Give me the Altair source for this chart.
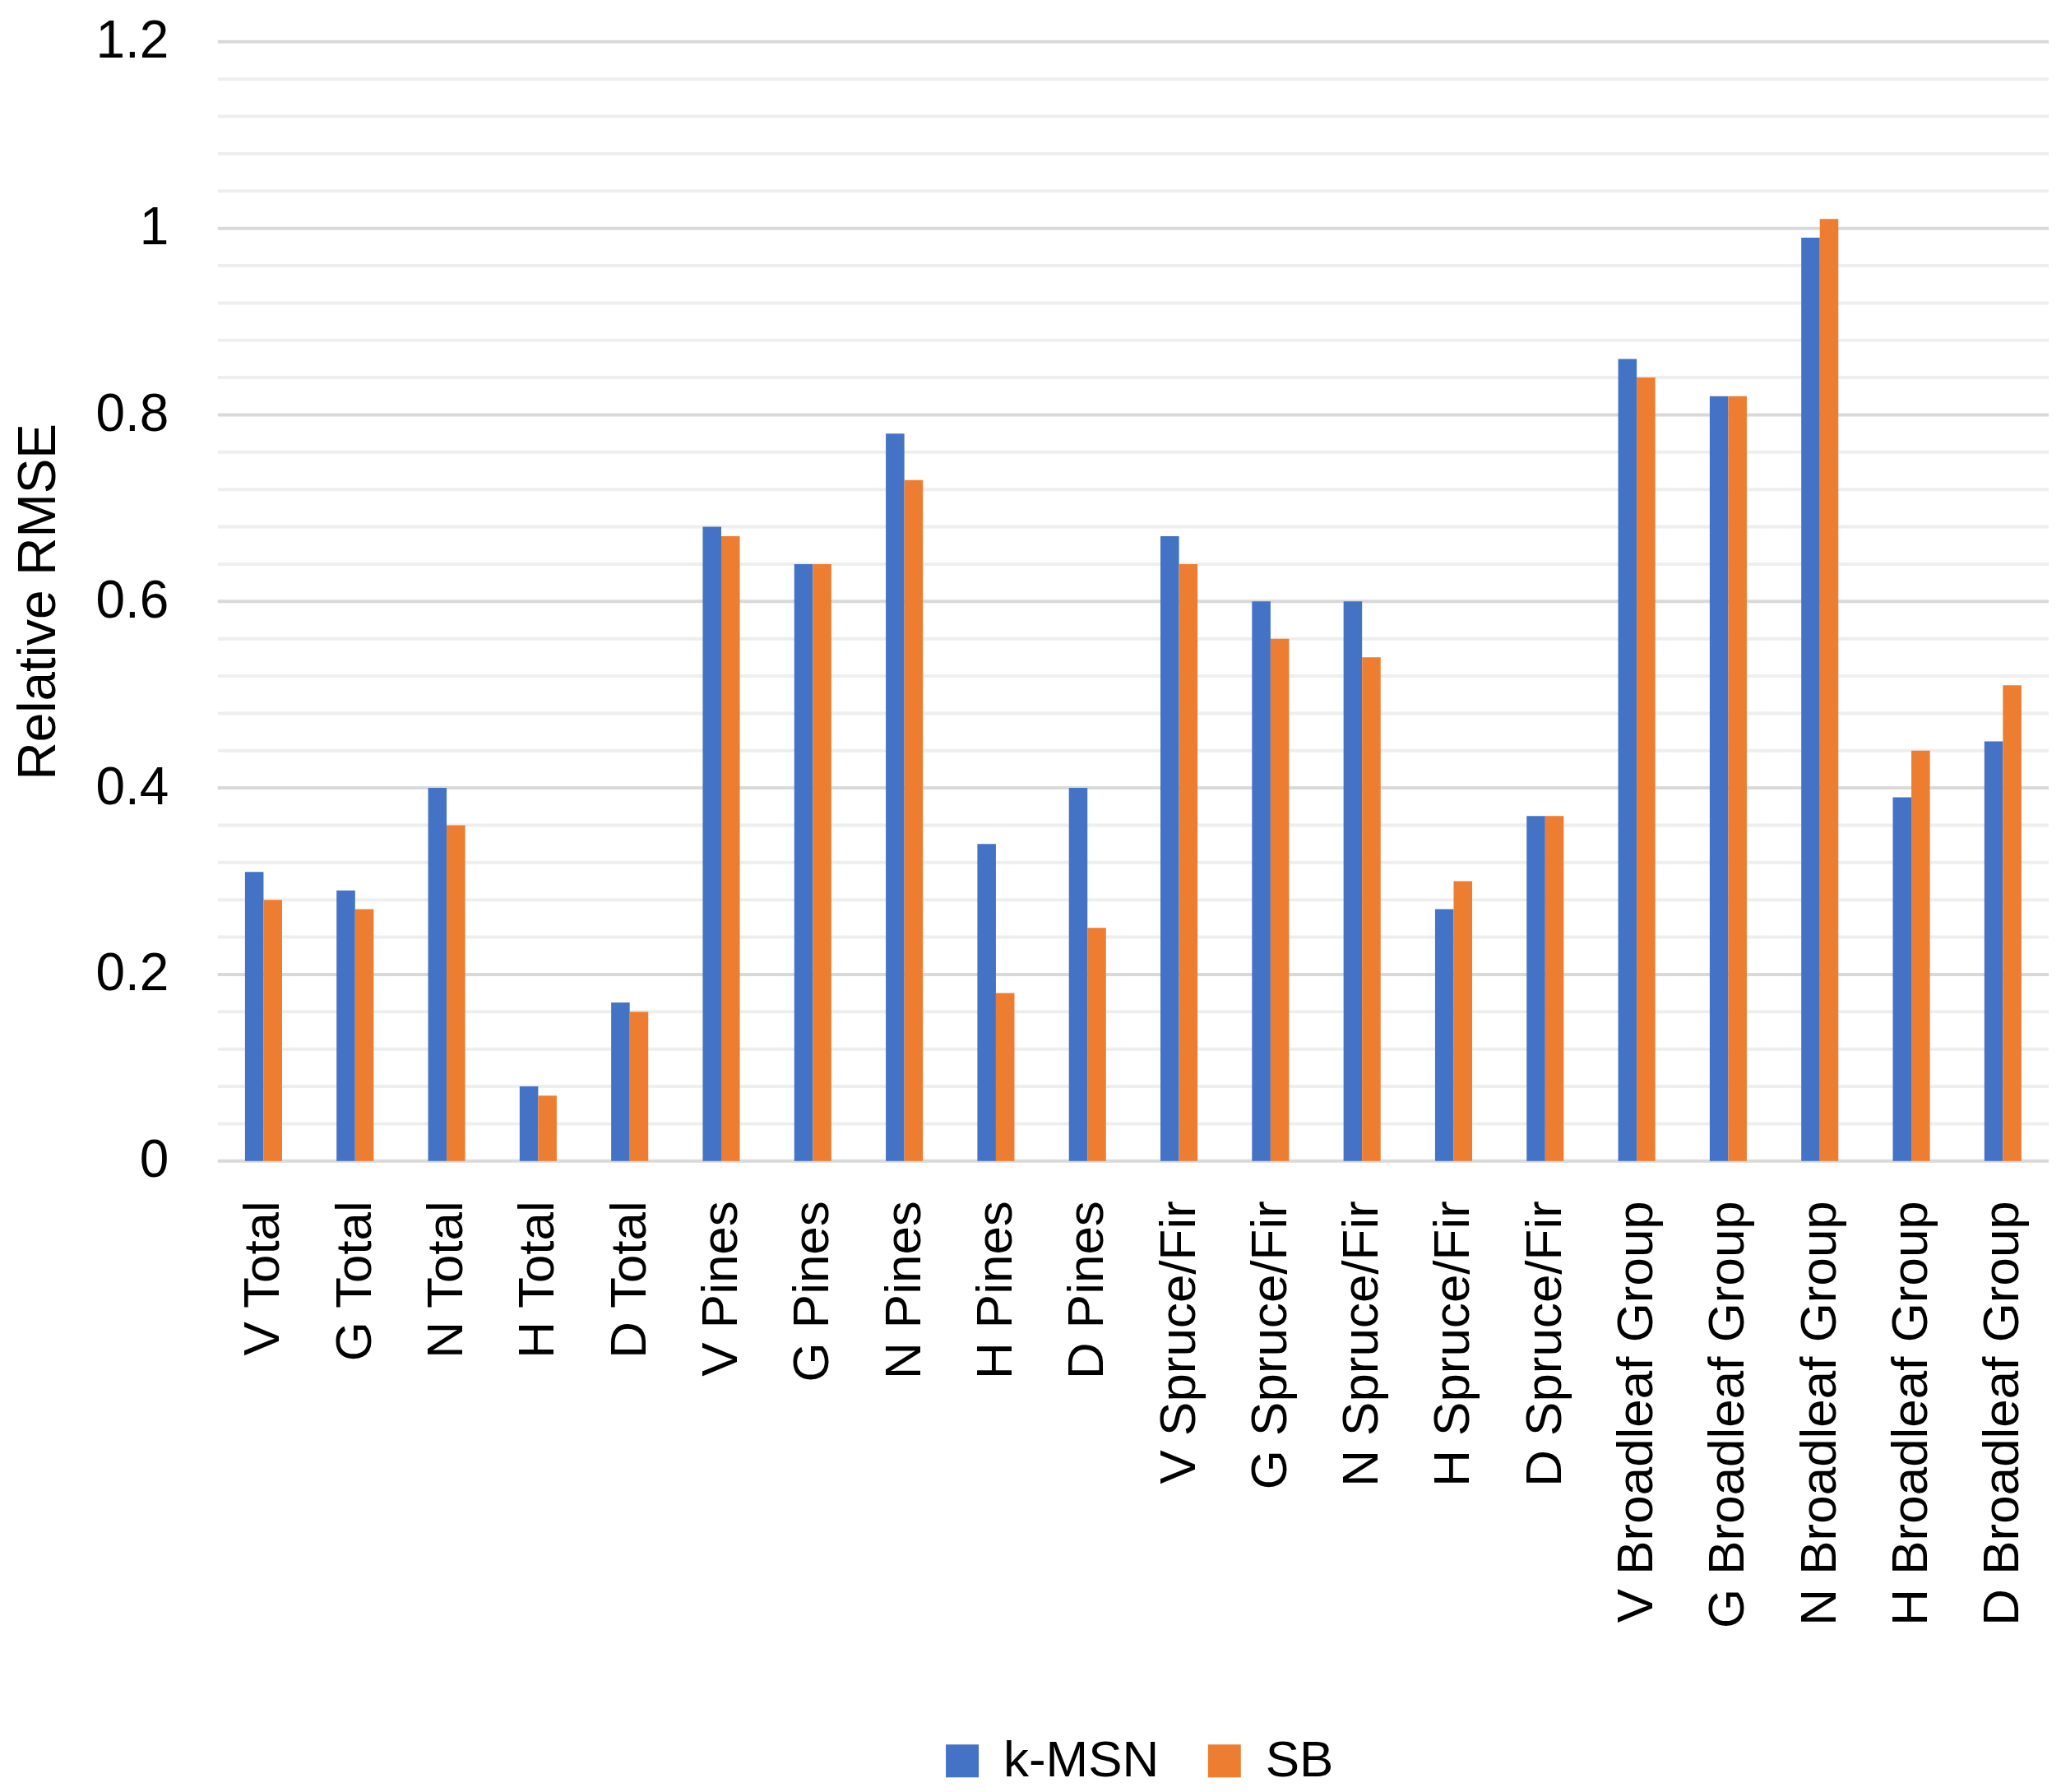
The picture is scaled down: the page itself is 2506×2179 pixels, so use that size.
import altair as alt
import pandas as pd

categories = [
    "V Total", "G Total", "N Total", "H Total", "D Total",
    "V Pines", "G Pines", "N Pines", "H Pines", "D Pines",
    "V Spruce/Fir", "G Spruce/Fir", "N Spruce/Fir", "H Spruce/Fir", "D Spruce/Fir",
    "V Broadleaf Group", "G Broadleaf Group", "N Broadleaf Group", "H Broadleaf Group", "D Broadleaf Group",
]
kmsn = [0.31, 0.29, 0.40, 0.08, 0.17,
        0.68, 0.64, 0.78, 0.34, 0.40,
        0.67, 0.60, 0.60, 0.27, 0.37,
        0.86, 0.82, 0.99, 0.39, 0.45]
sb = [0.28, 0.27, 0.36, 0.07, 0.16,
      0.67, 0.64, 0.73, 0.18, 0.25,
      0.64, 0.56, 0.54, 0.30, 0.37,
      0.84, 0.82, 1.01, 0.44, 0.51]
series_names = ["k-MSN", "SB"]
series_colors = ["#4472C4", "#ED7D31"]
major_ticks = [0, 0.2, 0.4, 0.6, 0.8, 1.0, 1.2]
minor_ticks = [0.04, 0.08, 0.12, 0.16, 0.24, 0.28, 0.32, 0.36,
               0.44, 0.48, 0.52, 0.56, 0.64, 0.68, 0.72, 0.76,
               0.84, 0.88, 0.92, 0.96, 1.04, 1.08, 1.12, 1.16]

rows = []
for c, a, b in zip(categories, kmsn, sb):
    rows.append({"category": c, "series": series_names[0], "value": a})
    rows.append({"category": c, "series": series_names[1], "value": b})
df = pd.DataFrame(rows)

FONT = "Liberation Sans"
yscale = alt.Scale(domain=[0, 1.2], nice=False)
y_axis = alt.Axis(title="Relative RMSE", values=major_ticks, format="~g",
                  labelFontSize=64, labelFont=FONT, labelColor="#000000",
                  titleFontSize=64, titleFont=FONT, titleFontWeight="normal",
                  titleColor="#000000", labelPadding=60, titlePadding=36,
                  ticks=False, domain=False, grid=False)

minor = alt.Chart(pd.DataFrame({"value": minor_ticks})).mark_rule(
    color="#eeeeee", strokeWidth=4
).encode(y=alt.Y("value:Q", scale=yscale, axis=y_axis))

major = alt.Chart(pd.DataFrame({"value": major_ticks})).mark_rule(
    color="#d9d9d9", strokeWidth=4
).encode(y=alt.Y("value:Q", scale=yscale, axis=y_axis))

bars = alt.Chart(df).mark_bar().encode(
    x=alt.X("category:N", sort=categories,
            scale=alt.Scale(paddingInner=0.595, paddingOuter=0.2975),
            axis=alt.Axis(title=None, labelAngle=-90, labelFontSize=62, labelFont=FONT,
                          labelColor="#000000", labelPadding=48, ticks=False,
                          domain=False, grid=False, labelLimit=1000)),
    xOffset=alt.XOffset("series:N", sort=series_names),
    y=alt.Y("value:Q", scale=yscale, axis=y_axis),
    color=alt.Color("series:N", sort=series_names,
                    scale=alt.Scale(domain=series_names, range=series_colors),
                    legend=alt.Legend(title=None, orient="none", legendX=875, legendY=2061,
                                      direction="horizontal", symbolType="square",
                                      symbolSize=1600, symbolStrokeWidth=0,
                                      labelFontSize=62, labelFont=FONT, labelColor="#000000",
                                      labelLimit=1000, columnPadding=48, labelOffset=19)),
)

chart = alt.layer(minor, major, bars).properties(
    width=2228, height=1362,
    padding={"left": 8, "top": 10, "right": 5, "bottom": 5},
).configure_view(stroke=None)

chart.save("out.html", embed_options={"renderer": "svg", "actions": False})
